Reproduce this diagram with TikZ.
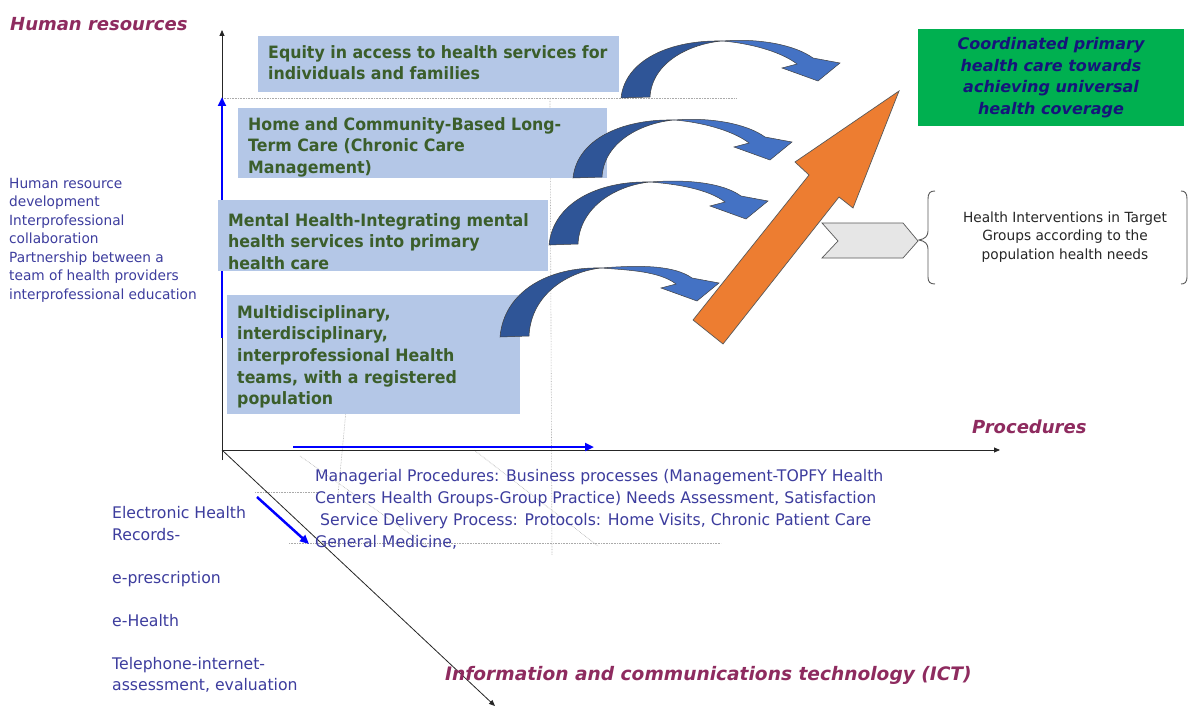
\documentclass[tikz,border=0pt]{standalone}
\usepackage{fontspec}
\setmainfont{DejaVu Sans}
\newfontfamily\tah{DejaVu Sans}[FakeStretch=0.98]
\newfontfamily\tahbold{DejaVu Sans}[FakeStretch=0.93]
\newfontfamily\verd{DejaVu Sans}
\usetikzlibrary{arrows.meta}
\definecolor{boxblue}{HTML}{B4C7E7}
\definecolor{boxgreen}{HTML}{3B5E2B}
\definecolor{ggreen}{HTML}{00B050}
\definecolor{navy}{HTML}{15157A}
\definecolor{maroon}{HTML}{8E2B5F}
\definecolor{bluetxt}{HTML}{3D3D9E}
\definecolor{darkband}{HTML}{2F5597}
\definecolor{lightband}{HTML}{4472C4}
\definecolor{orangeA}{HTML}{ED7D31}
\definecolor{chevgray}{HTML}{E6E6E6}
\definecolor{dotgray}{HTML}{AAAAAA}
\newcommand\carrow[4]{%
\begin{scope}[shift={(#1,#2)}]
\pgfmathsetmacro\pk{#3}\pgfmathsetmacro\hd{#4}
\filldraw[fill=lightband, draw=black!75, line width=0.5pt]
 (101,-\pk) .. controls (139,{-\pk-3}) and (174,{-53-\hd}) .. (192,{-40-\hd})
 -- (219,{-35-\hd}) -- (197,{-17-\hd}) -- (161,{-30-\hd}) -- (176,{-34-\hd})
 .. controls (159,{-47-\hd}) and (127,{-\pk+2}) .. (101,-\pk) -- cycle;
\filldraw[fill=darkband, draw=black!75, line width=0.5pt]
 (0,0) .. controls (4,{-0.667*\pk}) and (49,{-1.02*\pk}) .. (101,-\pk)
 .. controls (69,{-0.95*\pk}) and (31,{-0.63*\pk}) .. (29,-1) -- cycle;
\end{scope}}
\begin{document}
\begin{tikzpicture}[x=1pt,y=-1pt,
  boxfill/.style={fill=boxblue, draw=none, anchor=north west, inner sep=0pt},
  boxtxt/.style={anchor=north west, inner sep=0pt, align=left, text=boxgreen,
     font=\tahbold\bfseries\fontsize{17}{21.7}\selectfont},
  title/.style={anchor=north west, inner sep=0pt, text=maroon,
     font=\verd\bfseries\itshape\fontsize{18}{22}\selectfont},
  bluetext/.style={anchor=north west, inner sep=0pt, align=left, text=bluetxt},
  axis/.style={draw=black!85, line width=0.8pt, -{Triangle[length=6pt,width=5pt]}},
  bluearrow/.style={draw=blue, line width=2.5pt, -{Triangle[length=9pt,width=8pt]}},
  dots/.style={draw=dotgray, densely dotted, line width=0.6pt}
]
\useasboundingbox[fill=white] (0,0) rectangle (1189,706);

% dotted guide lines
\draw[dots] (222,98) -- (737,98);
\draw[dots] (550,98) -- (552,555);
\draw[dots] (347,400) -- (338,495);
\draw[dots] (255,492) -- (320,492);
\draw[dots] (289,543) -- (721,543);
\draw[dots] (300,456) -- (430,548);
\draw[dots] (474,450) -- (598,546);

% axes
\coordinate (O) at (222,450);
\coordinate (Obelow) at (222,460);
\coordinate (ytop) at (222,30);
\coordinate (xend) at (1000,450);
\coordinate (zend) at (495,706);
\draw[axis] (Obelow) -- (ytop);
\draw[axis] (O) -- (xend);
\draw[axis] (O) -- (zend);

% blue arrows
\coordinate (bv1) at (222,338);
\coordinate (bv2) at (222,97);
\coordinate (bh1) at (293,447);
\coordinate (bh2) at (594,447);
\coordinate (bd1) at (257,497);
\coordinate (bd2) at (309,544);
\draw[bluearrow] (bv1) -- (bv2);
\draw[bluearrow] (bh1) -- (bh2);
\draw[bluearrow] (bd1) -- (bd2);

% boxes
\node[boxfill, minimum width=361pt, minimum height=56pt] (b1) at (258,36) {};
\node[boxfill, minimum width=369pt, minimum height=70pt] (b2) at (238,108) {};
\node[boxfill, minimum width=330pt, minimum height=71pt] (b3) at (218,200) {};
\node[boxfill, minimum width=293pt, minimum height=119pt] (b4) at (227,295) {};

\node[boxtxt] (t1) at (268,45) {Equity in access to health services for\\individuals and families};
\node[boxtxt] (t2) at (248,117) {Home and Community-Based Long-\\Term Care (Chronic Care\\Management)};
\node[boxtxt] (t3) at (228,213) {Mental Health-Integrating mental\\health services into primary\\health care};
\node[boxtxt] (t4) at (237,305) {Multidisciplinary,\\interdisciplinary,\\interprofessional Health\\teams, with a registered\\population};

% curved arrows
\carrow{621}{98}{57}{0}
\carrow{573}{178}{58}{1}
\carrow{549}{245}{63}{9}
\carrow{500}{337}{69}{19}

% orange arrow
\filldraw[fill=orangeA, draw=black!65, line width=0.7pt]
 (693,320) -- (809,175) -- (795,162) -- (899,91) -- (853,208) -- (839,197) -- (723,344) -- cycle;

% goal box
\node[fill=ggreen, minimum width=266pt, minimum height=97pt, inner sep=0pt,
      align=center, text=navy, font=\verd\bfseries\itshape\fontsize{16}{21.7}\selectfont]
  (goal) at (1051,77.5) {Coordinated primary\\health care towards\\achieving universal\\health coverage};

% chevron
\filldraw[fill=chevgray, draw=black!65, line width=0.7pt]
 (822,223) -- (903,223) -- (918,241) -- (903,258) -- (822,258) -- (838,241) -- cycle;

% braces
\draw[black!65, line width=0.9pt] (935,191) .. controls (930,191) and (928,193) .. (928,199) -- (928,231)
 .. controls (928,236) and (925,239) .. (919,240) .. controls (925,241) and (928,244) .. (928,249)
 -- (928,277) .. controls (928,282) and (930,284) .. (935,284);
\draw[black!65, line width=0.9pt] (1181,191) .. controls (1185,191) and (1187,193) .. (1187,199)
 -- (1187,277) .. controls (1187,282) and (1185,284) .. (1181,284);
\node[align=center, inner sep=0pt, text=black!85, font=\tah\fontsize{14}{18.5}\selectfont]
  (hi) at (1065,237) {Health Interventions in Target\\Groups according to the\\population health needs};

% titles
\node[title] (hr) at (10,17) {Human resources};
\node[title] (proc) at (972,420) {Procedures};
\node[title, font=\verd\bfseries\itshape\fontsize{18.6}{22}\selectfont] (ict) at (445,666) {Information and communications technology (ICT)};

% side texts
\node[bluetext, font=\tah\fontsize{14}{18.5}\selectfont] (hrtxt) at (9,178)
 {Human resource\\development\\Interprofessional\\collaboration\\Partnership between a\\team of health providers\\interprofessional education};
\node[bluetext, font=\tah\fontsize{16}{21.7}\selectfont] (mgr) at (315,469.6)
 {Managerial Procedures: Business processes (Management-TOPFY Health\\Centers Health Groups-Group Practice) Needs Assessment, Satisfaction\\\hspace*{5pt}Service Delivery Process: Protocols: Home Visits, Chronic Patient Care\\General Medicine,};
\node[bluetext, font=\tah\fontsize{16}{21.5}\selectfont] (icttxt) at (112,506.6)
 {Electronic Health\\Records-\\[21.5pt]e-prescription\\[21.5pt]e-Health\\[21.5pt]Telephone-internet-\\assessment, evaluation};
\end{tikzpicture}
\end{document}
